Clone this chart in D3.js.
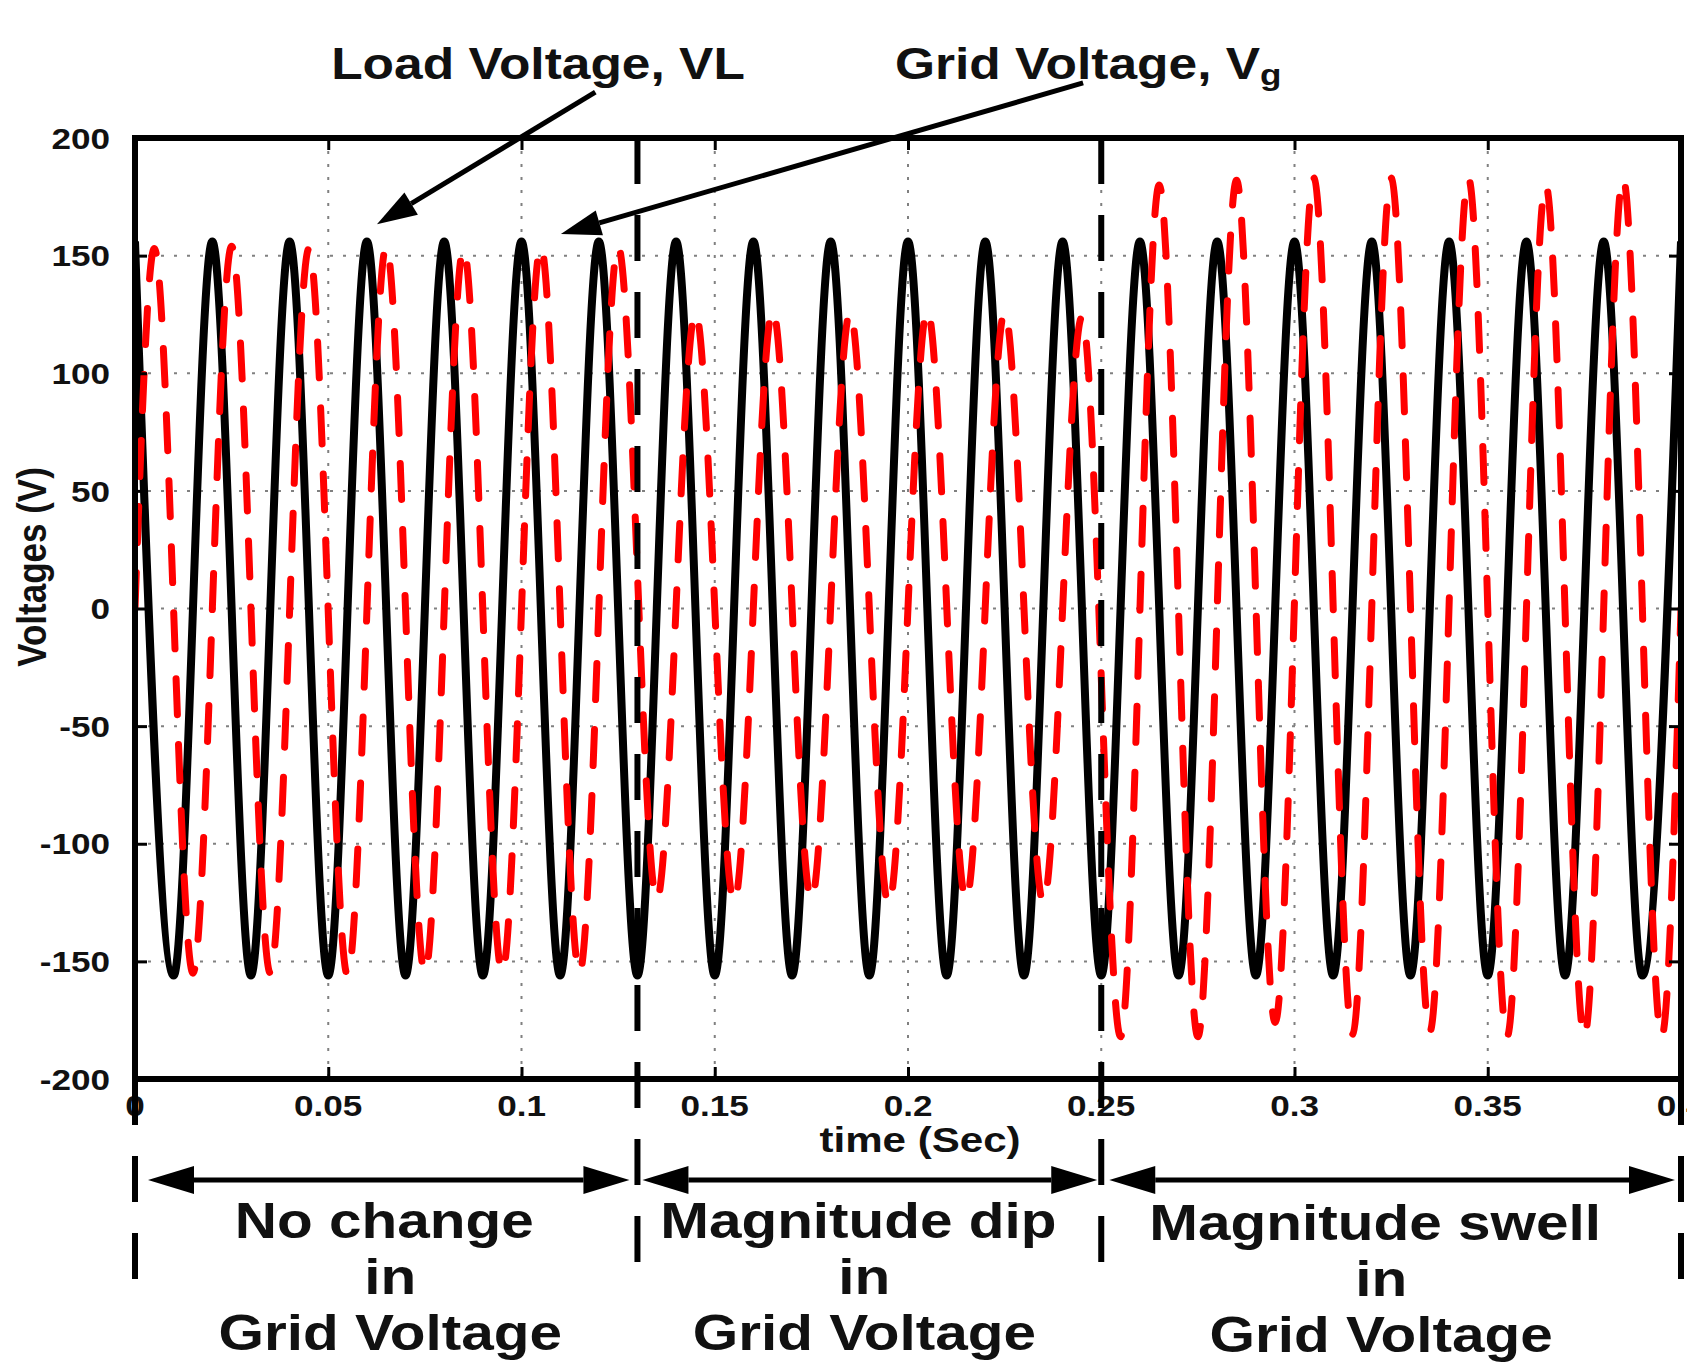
<!DOCTYPE html>
<html><head><meta charset="utf-8">
<script src="https://cdn.jsdelivr.net/npm/d3@7"></script>
<style>body{margin:0;background:#fff}svg{display:block}</style>
</head><body>
<svg id="c" width="1687" height="1367"></svg>
<script>
// ---------------- data ----------------
// Load voltage VL: successive peaks / troughs (time in s, volts)
const loadTime = [0,0.01,0.02,0.03,0.04,0.05,0.06,0.07,0.08,0.09,0.10,0.11,0.12,0.13,0.14,0.15,0.16,0.17,0.18,0.19,0.20,
  0.21,0.22,0.23,0.24,0.25,0.26,0.27,0.28,0.29,0.30,0.31,0.32,0.33,0.34,0.35,0.36,0.37,0.38,0.39,0.40];
const loadVoltage = [156,-156,156,-156,156,-156,156,-156,156,-156,156,-156,156,-156,156,-156,156,-156,156,-156,156,
  -156,156,-156,156,-156,156,-156,156,-156,156,-156,156,-156,156,-156,156,-156,156,-156,156];
// Grid voltage Vg: start, successive peaks / troughs, end
const gridTime = [0,0.005,0.015,0.025,0.035,0.045,0.055,0.065,0.075,0.085,0.095,0.105,0.115,0.125,
  0.135,0.145,0.155,0.165,0.175,0.185,0.195,0.205,0.215,0.225,0.235,0.245,
  0.255,0.265,0.275,0.285,0.295,0.305,0.315,0.325,0.335,0.345,0.355,0.365,0.375,0.385,0.395,0.40];
const gridVoltage = [0,153,-155,154,-155,153,-156,154,-155,153,-155,154,-155,154,
  -124,126,-125,127,-124,126,-126,127,-124,126,-125,124,
  -182,180,-182,182,-176,183,-181,183,-180,183,-182,180,-182,183,-182,0];
const xTicks = [0,0.05,0.1,0.15,0.2,0.25,0.3,0.35,0.4];
const xTickLabels = ["0","0.05","0.1","0.15","0.2","0.25","0.3","0.35","0.4"];
const yTicks = [-200,-150,-100,-50,0,50,100,150,200];
const yTickLabels = ["-200","-150","-100","-50","0","50","100","150","200"];
const sectionBounds = [0,0.13,0.25,0.4];
const sectionLabels = [["No change","in","Grid Voltage"],["Magnitude dip","in","Grid Voltage"],["Magnitude swell","in","Grid Voltage"]];
const xTitle = "time (Sec)";
const yTitle = "Voltages (V)";
const loadName = "Load Voltage, VL";
const gridName = "Grid Voltage, V";
const gridSub = "g";
// annotation arrows [tail, tip] in data units
const loadArrow = [[0.1191,219.5],[0.0626,163.3]];
const gridArrow = [[0.2453,223.4],[0.1102,159.2]];

// ---------------- layout ----------------
const L = 135, R = 1681, T = 138, B = 1079;
const SX = 1.17; // horizontal stretch of the lettering
const FONT = "'Liberation Sans', Arial, sans-serif";
const svg = d3.select("#c");
const x = d3.scaleLinear().domain([0,0.4]).range([L,R]);
const y = d3.scaleLinear().domain([-200,200]).range([B,T]);

function txt(g, px, py, s, size, anchor) {
  return g.append("text")
    .attr("transform", `translate(${px},${py}) scale(${SX},1)`)
    .attr("text-anchor", anchor || "middle")
    .attr("font-family", FONT).attr("font-weight", "bold")
    .attr("font-size", size).attr("fill", "#111").text(s);
}

// grid
const grid = svg.append("g").attr("stroke", "#808080").attr("stroke-width", 2)
  .attr("stroke-dasharray", "3,10");
grid.selectAll("line.v").data(xTicks.slice(1, -1)).join("line")
  .attr("x1", d => x(d)).attr("x2", d => x(d)).attr("y1", T).attr("y2", B);
grid.selectAll("line.h").data(yTicks.slice(1, -1)).join("line")
  .attr("x1", L).attr("x2", R).attr("y1", d => y(d)).attr("y2", d => y(d));

// clip
svg.append("clipPath").attr("id", "clip").append("rect")
  .attr("x", L).attr("y", T - 4).attr("width", R - L).attr("height", B - T + 8);

const line = d3.line().x(d => x(d[0])).y(d => y(d[1])).curve(d3.curveMonotoneX);
const plot = svg.append("g").attr("clip-path", "url(#clip)");
plot.append("path").datum(loadTime.map((t, i) => [t, loadVoltage[i]]))
  .attr("d", line).attr("fill", "none").attr("stroke", "#000")
  .attr("stroke-width", 8).attr("stroke-linejoin", "round");
plot.append("path").datum(gridTime.map((t, i) => [t, gridVoltage[i]]))
  .attr("d", line).attr("fill", "none").attr("stroke", "#ff0000")
  .attr("stroke-width", 7).attr("stroke-dasharray", "36,30")
  .attr("stroke-linecap", "round");

// axes (ticks only, inward)
const ax = svg.append("g").attr("stroke-width", 3);
ax.append("g").attr("transform", `translate(${L},0)`)
  .call(d3.axisLeft(y).tickValues(yTicks).tickSize(-12).tickFormat(""));
ax.append("g").attr("transform", `translate(${R},0)`)
  .call(d3.axisRight(y).tickValues(yTicks).tickSize(-12).tickFormat(""));
ax.append("g").attr("transform", `translate(0,${B})`)
  .call(d3.axisBottom(x).tickValues(xTicks).tickSize(-12).tickFormat(""));
ax.append("g").attr("transform", `translate(0,${T})`)
  .call(d3.axisTop(x).tickValues(xTicks).tickSize(-12).tickFormat(""));
ax.selectAll(".domain").remove();
ax.selectAll(".tick line").attr("stroke", "#000").attr("stroke-width", 3);

// frame
svg.append("rect").attr("x", L).attr("y", T).attr("width", R - L).attr("height", B - T)
  .attr("fill", "none").attr("stroke", "#000").attr("stroke-width", 6);

// tick labels
yTicks.forEach((v, i) => txt(svg, 110, y(v) + 10.7, yTickLabels[i], 30, "end"));
xTicks.forEach((v, i) => txt(svg, x(v), 1116, xTickLabels[i], 30, "middle"));

// axis titles
txt(svg, 920, 1152, xTitle, 36, "middle");
svg.append("text")
  .attr("transform", `translate(46,567) rotate(-90) scale(1,${SX})`)
  .attr("text-anchor", "middle").attr("font-family", FONT).attr("font-weight", "bold")
  .attr("font-size", 35).attr("fill", "#111").text(yTitle);

// section boundary dashed lines
const dash = svg.append("g").attr("stroke", "#000").attr("stroke-width", 6)
  .attr("stroke-dasharray", "46,31");
sectionBounds.forEach((b, i) => {
  const inner = i > 0 && i < sectionBounds.length - 1;
  dash.append("line").attr("x1", x(b)).attr("x2", x(b))
    .attr("y1", inner ? T : B).attr("y2", inner ? 1290 : 1280);
});

// double arrows for the sections
function arrowHead(g, tip, from, len, half) {
  const dx = tip[0] - from[0], dy = tip[1] - from[1];
  const n = Math.hypot(dx, dy), ux = dx / n, uy = dy / n;
  const bx = tip[0] - ux * len, by = tip[1] - uy * len;
  g.append("path").attr("d",
    `M${tip[0]},${tip[1]}L${bx - uy * half},${by + ux * half}L${bx + uy * half},${by - ux * half}Z`)
    .attr("fill", "#000");
  return [bx, by];
}
const arrowY = 1180;
const arrowGaps = [[13, 8], [5, 4], [8, 6]];
const textDx = [4, -5, -10];
const ag = svg.append("g");
sectionBounds.slice(0, -1).forEach((b, i) => {
  const x0 = x(b) + arrowGaps[i][0], x1 = x(sectionBounds[i + 1]) - arrowGaps[i][1];
  const p0 = arrowHead(ag, [x0, arrowY], [x1, arrowY], 46, 14);
  const p1 = arrowHead(ag, [x1, arrowY], [x0, arrowY], 46, 14);
  ag.append("line").attr("x1", p0[0]).attr("x2", p1[0]).attr("y1", arrowY).attr("y2", arrowY)
    .attr("stroke", "#000").attr("stroke-width", 5);
  const cx = (x(b) + x(sectionBounds[i + 1])) / 2 + textDx[i];
  const base = [1238, 1294, 1350].map(v => v + (i === 2 ? 2 : 0));
  sectionLabels[i].forEach((s, j) => txt(svg, cx + (j === 0 ? -6 : 0), base[j], s, 50, "middle"));
});

// annotations
function annot(a) {
  const tail = [x(a[0][0]), y(a[0][1])], tip = [x(a[1][0]), y(a[1][1])];
  const b = arrowHead(svg, tip, tail, 40, 13);
  svg.append("line").attr("x1", tail[0]).attr("y1", tail[1]).attr("x2", b[0]).attr("y2", b[1])
    .attr("stroke", "#000").attr("stroke-width", 5);
}
annot(loadArrow);
annot(gridArrow);
txt(svg, 538, 79, loadName, 44, "middle");
const gt = txt(svg, 895, 79, gridName, 44, "start");
gt.append("tspan").attr("font-size", 30).attr("dy", 6).text(gridSub);
</script>
</body></html>
